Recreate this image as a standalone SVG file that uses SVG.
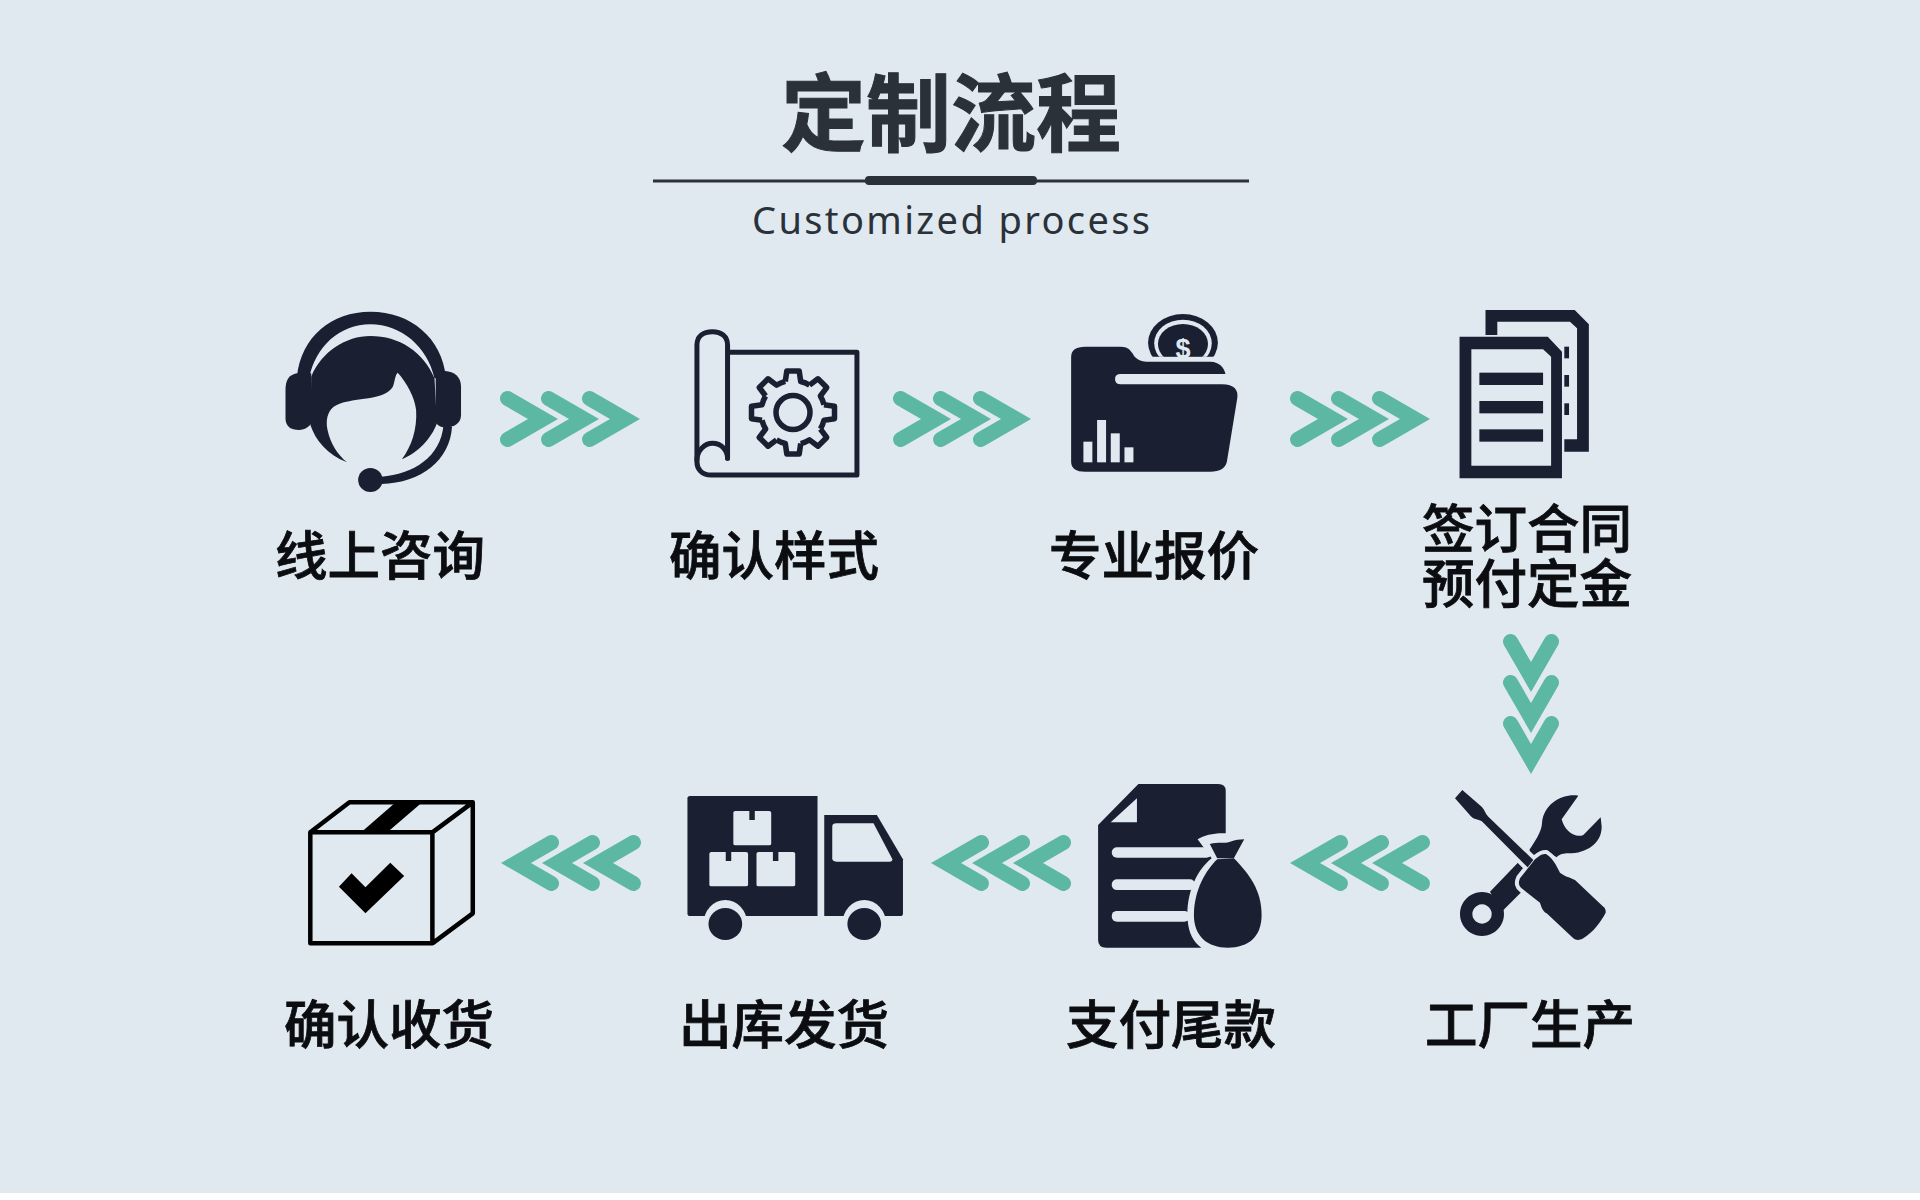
<svg xmlns="http://www.w3.org/2000/svg" xmlns:xlink="http://www.w3.org/1999/xlink" width="1920" height="1200" viewBox="0 0 1920 1200">
<style>
.ink{fill:#1a2031}
.bg{fill:#e0e8f0}
.lab{font-family:"Noto Sans CJK SC","Noto Sans",sans-serif;font-size:52.500px;font-weight:500;fill:#0c0d10;stroke:#0c0d10;stroke-width:.8px;text-anchor:middle}
.ol{fill:none;stroke:#1a2031;stroke-width:5;vector-effect:non-scaling-stroke;stroke-linejoin:round;stroke-linecap:round}
.kl{fill:none;stroke:#000;stroke-width:4.5;vector-effect:non-scaling-stroke;stroke-linejoin:round}
.chev{fill:none;stroke:#5cb8a3;stroke-width:15;stroke-linecap:round;stroke-linejoin:miter}
</style>
<defs>
<path id="c" class="chev" d="M-50.500 -20.500L-15 0L-50.500 20.500"/>
<path id="t" d="M-7.7 -31L-6.2 -41.5L6.2 -41.5L7.7 -31A32 32 0 0 1 16.5 -27.4" fill="none" stroke="#1a2031" stroke-width="5.5" stroke-linejoin="round"/>
<clipPath id="coinclip"><rect x="540" y="50" width="200" height="150"/></clipPath>
</defs>
<rect width="1920" height="1200" fill="#fff"/>
<rect class="bg" width="1920" height="1193"/>
<g id="title">
<text x="951" y="144.500" font-family="'Noto Sans CJK SC',sans-serif" font-size="85" font-weight="700" fill="#2b3138" stroke="#2b3138" stroke-width="1" text-anchor="middle">定制流程</text>
<rect x="653" y="179.500" width="596" height="3" fill="#2b3138"/>
<rect x="865" y="176" width="172" height="9" rx="4" fill="#2b3138"/>
<text x="752" y="234" font-family="'Noto Sans',sans-serif" font-size="38" font-weight="400" fill="#2b3138" textLength="398" lengthAdjust="spacing">Customized process</text>
</g>
<g id="connectors">
<use xlink:href="#c" x="558" y="419"/><use xlink:href="#c" x="599" y="419"/><use xlink:href="#c" x="640" y="419"/>
<use xlink:href="#c" x="951" y="419"/><use xlink:href="#c" x="991" y="419"/><use xlink:href="#c" x="1031" y="419"/>
<use xlink:href="#c" x="1348" y="419"/><use xlink:href="#c" x="1389" y="419"/><use xlink:href="#c" x="1430" y="419"/>
<use xlink:href="#c" transform="translate(1531,692) rotate(90)"/><use xlink:href="#c" transform="translate(1531,733) rotate(90)"/><use xlink:href="#c" transform="translate(1531,774) rotate(90)"/>
<use xlink:href="#c" transform="translate(1290,863) rotate(180)"/><use xlink:href="#c" transform="translate(1331,863) rotate(180)"/><use xlink:href="#c" transform="translate(1372,863) rotate(180)"/>
<use xlink:href="#c" transform="translate(931,863) rotate(180)"/><use xlink:href="#c" transform="translate(972,863) rotate(180)"/><use xlink:href="#c" transform="translate(1013,863) rotate(180)"/>
<use xlink:href="#c" transform="translate(501,863) rotate(180)"/><use xlink:href="#c" transform="translate(542,863) rotate(180)"/><use xlink:href="#c" transform="translate(583,863) rotate(180)"/>
</g>
<g id="node-consult">
<g transform="translate(250,290) scale(.40816,.33333)" class="ink">
<path d="M115 260C125 140 200 65 295 65C395 65 470 145 480 260L452 265C435 170 370 103 295 103C220 103 160 170 145 265Z"/>
<path d="M150 260C175 185 235 138 295 138C365 138 425 185 452 265L458 400C445 445 410 490 372 508C395 470 410 420 407 360C403 320 385 280 362 248C355 255 355 275 350 290C340 310 320 318 290 325C250 332 225 335 205 350C190 365 185 390 190 420C197 460 215 495 238 517C190 495 160 450 148 405Z"/>
<path d="M115 250C95 255 87 270 87 300L87 385C87 410 100 420 120 420C135 420 145 410 150 400L150 250Z"/>
<path d="M478 243C500 245 517 260 517 290L517 375C517 400 500 412 480 412C465 412 458 405 455 395L455 250Z"/>
<path d="M474 405L495 410C490 510 420 578 322 582L322 560C400 553 468 500 474 405Z"/>
<ellipse cx="295" cy="570" rx="30" ry="36"/>
</g>
<text class="lab" x="380" y="575">线上咨询</text>
</g>
<g id="node-style">
<g transform="translate(250,290) scale(.40816,.33333)">
<path class="ol" d="M1170 187H1487V555H1130C1105 555 1095 535 1095 515V165C1095 140 1110 125 1133 125C1155 125 1170 140 1170 165V505"/>
<path class="ol" d="M1095 510C1095 480 1115 460 1133 460C1155 460 1170 480 1170 505"/>
</g>
<g transform="translate(793,412.500)">
<use xlink:href="#t"/><use xlink:href="#t" transform="rotate(45)"/><use xlink:href="#t" transform="rotate(90)"/><use xlink:href="#t" transform="rotate(135)"/><use xlink:href="#t" transform="rotate(180)"/><use xlink:href="#t" transform="rotate(225)"/><use xlink:href="#t" transform="rotate(270)"/><use xlink:href="#t" transform="rotate(315)"/>
<circle r="17" fill="none" stroke="#1a2031" stroke-width="5.500"/>
</g>
<text class="lab" x="774" y="575">确认样式</text>
</g>
<g id="node-quote">
<g transform="translate(880,290) scale(.47194,.33333)">
<g clip-path="url(#coinclip)">
<ellipse class="ink" cx="642" cy="158" rx="74" ry="86"/>
<ellipse class="bg" cx="642" cy="160" rx="61" ry="71"/>
<ellipse class="ink" cx="642" cy="162" rx="53" ry="60"/>
</g>
<path class="ink" d="M435 170H510C525 170 530 180 535 190C540 205 550 215 565 215H700C720 215 730 235 732 252H510Q498 252 498 267Q498 283 510 283H725C750 283 760 300 757 325L735 515C732 535 720 545 700 545H435Q405 545 405 515V200Q405 170 435 170Z"/>
<g class="bg"><rect x="431" y="455" width="19" height="62"/><rect x="460" y="390" width="19" height="127"/><rect x="489" y="430" width="19" height="87"/><rect x="518" y="472" width="19" height="45"/></g>
</g>
<text x="1183" y="358" font-family="'Liberation Sans',sans-serif" font-size="27" font-weight="700" fill="#e0e8f0" text-anchor="middle">$</text>
<text class="lab" x="1154" y="575">专业报价</text>
</g>
<g id="node-contract">
<g transform="translate(880,290) scale(.47194,.33333)" class="ink">
<path d="M1283 60H1472L1502 103V485H1450V448H1477V115L1462 95H1308V135H1283Z"/>
<rect x="1450" y="170" width="10" height="35"/><rect x="1450" y="255" width="10" height="35"/><rect x="1450" y="340" width="10" height="35"/>
<path fill-rule="evenodd" d="M1228 140H1415L1445 185V565H1228ZM1253 178V527H1422V200L1405 178Z"/>
<rect x="1270" y="248" width="135" height="37"/><rect x="1270" y="333" width="135" height="37"/><rect x="1270" y="418" width="135" height="37"/>
</g>
<text class="lab" x="1527" y="548">签订合同</text>
<text class="lab" x="1527" y="603">预付定金</text>
</g>
<g id="node-factory">
<g transform="translate(1440,780) scale(.33333)" class="ink">
<path d="M415 47C370 40 310 70 306 130C305 150 295 170 268 210L290 232L315 210L350 232C360 222 370 220 385 220C440 220 485 190 485 140L482 112L430 165C405 175 375 155 365 118Z"/>
<path d="M230 252L300 180L350 240L245 335L185 395L150 335Z"/>
<path fill-rule="evenodd" d="M126 336A66 66 0 1 1 125.900 336ZM126 373A29 29 0 1 0 126.100 373Z"/>
<path class="bg" stroke="#e0e8f0" stroke-width="24" stroke-linejoin="round" d="M318 222C305 220 295 230 285 238L240 295C233 310 238 320 245 325L300 368C305 385 310 395 320 400L400 475C410 483 420 480 430 475C460 455 480 430 497 398C498 390 495 383 490 380L405 300C385 290 375 290 360 278C352 265 345 240 318 222Z"/>
<path class="bg" stroke="#e0e8f0" stroke-width="24" d="M145 110L280 240L263 262L130 128Z"/>
<path d="M45 55L67 30L125 80C135 90 135 100 145 110L280 240L263 262L130 128C118 115 105 122 92 108Z"/>
<path d="M318 222C305 220 295 230 285 238L240 295C233 310 238 320 245 325L300 368C305 385 310 395 320 400L400 475C410 483 420 480 430 475C460 455 480 430 497 398C498 390 495 383 490 380L405 300C385 290 375 290 360 278C352 265 345 240 318 222Z"/>
</g>
<text class="lab" x="1530" y="1044">工厂生产</text>
</g>
<g id="node-balance">
<g transform="translate(1060,770) scale(.36990,.33333)">
<path class="ink" d="M212 42H428Q448 42 448 62V190C420 188 390 195 372 208L410 265C370 300 340 370 345 450C348 490 360 515 382 533H125Q103 533 103 510V165Z"/>
<path class="bg" d="M137 157L208 85V157Z"/>
<g class="bg"><rect x="140" y="232" width="270" height="31" rx="14"/><rect x="140" y="328" width="225" height="32" rx="14"/><rect x="140" y="423" width="210" height="32" rx="14"/></g>
<path class="ink" d="M425 268C395 300 362 360 362 435C362 500 400 533 453 533C510 533 545 500 545 435C545 360 510 310 470 265Z"/>
<path class="ink" d="M405 222C430 215 440 222 460 215C475 210 485 208 498 208L470 265H425Z"/>
</g>
<text class="lab" x="1171" y="1044">支付尾款</text>
</g>
<g id="node-ship">
<g transform="translate(280,770) scale(.42092,.33333)">
<path class="ink" d="M975 78H1277V438H975Q968 438 968 431V85Q968 78 975 78Z"/>
<path class="ink" d="M1293 135H1418L1480 268V431Q1480 438 1473 438H1293Z"/>
<path class="bg" d="M1322 160H1410L1455 268Q1455 275 1448 275H1322Q1312 275 1312 265V170Q1312 160 1322 160Z"/>
<g class="bg"><rect x="1077" y="123" width="90" height="103" rx="5"/><rect x="1020" y="246" width="92" height="103" rx="5"/><rect x="1132" y="246" width="92" height="103" rx="5"/></g>
<g class="ink"><rect x="1115" y="123" width="13" height="27"/><rect x="1059" y="246" width="13" height="27"/><rect x="1171" y="246" width="13" height="27"/></g>
<ellipse class="bg" cx="1058" cy="462" rx="52" ry="72"/><ellipse class="bg" cx="1388" cy="462" rx="52" ry="72"/>
<ellipse class="ink" cx="1058" cy="462" rx="40" ry="48"/><ellipse class="ink" cx="1388" cy="462" rx="40" ry="48"/>
</g>
<text class="lab" x="784" y="1044">出库发货</text>
</g>
<g id="node-receive">
<g transform="translate(280,770) scale(.42092,.33333)">
<path d="M193 187L275 97H338L255 187Z"/>
<path d="M140 350L170 310L203 352L262 278L295 318L203 430Z"/>
<path class="kl" d="M72 187H362V520H72ZM72 187L165 97H458L362 187M458 97V430L362 520"/>
</g>
<text class="lab" x="389" y="1044">确认收货</text>
</g>
</svg>
